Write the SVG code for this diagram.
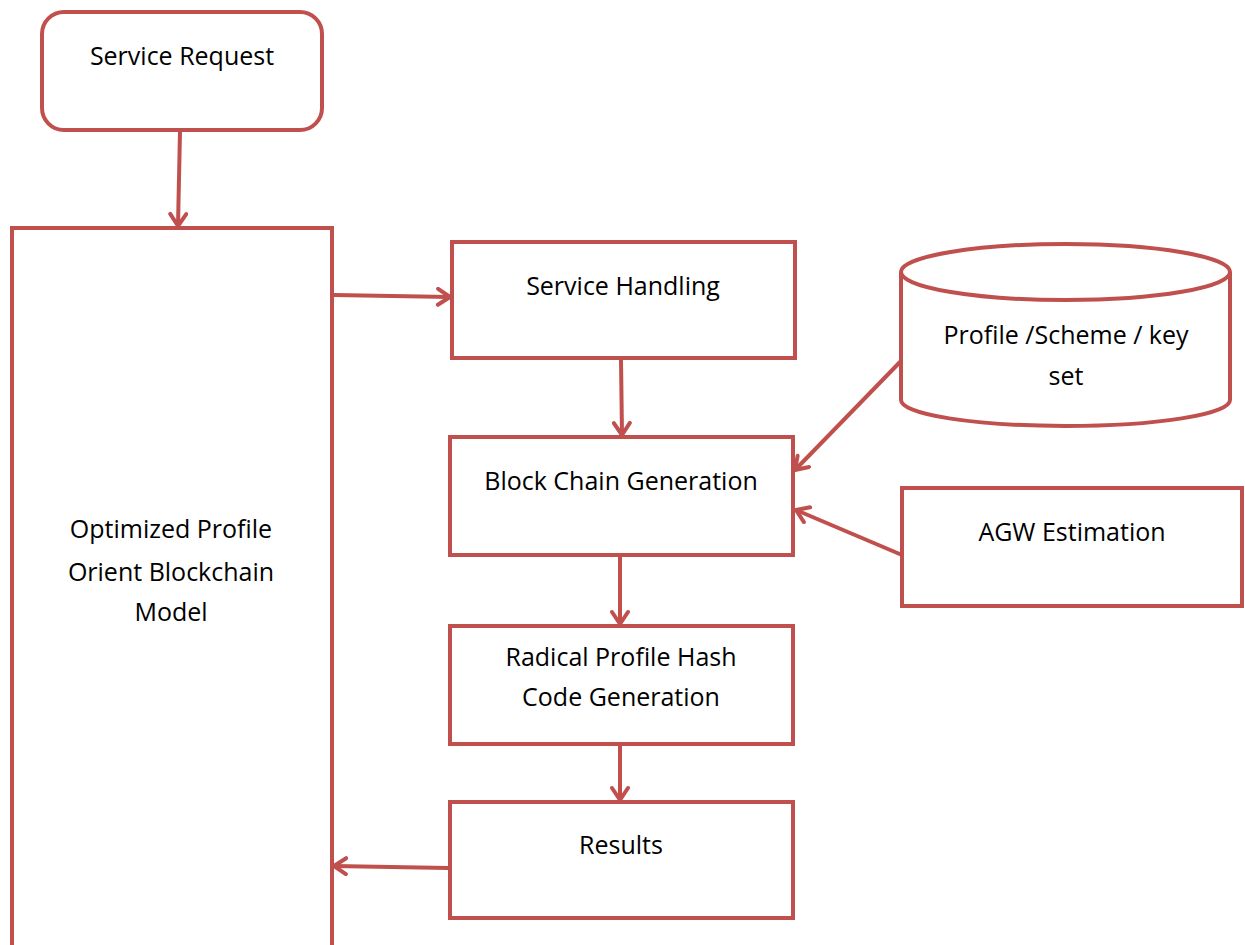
<svg xmlns="http://www.w3.org/2000/svg" width="1245" height="945" viewBox="0 0 1245 945">
  <defs>
    <style>
      .box { fill: #ffffff; stroke: #C0504D; stroke-width: 4; }
      .link { fill: none; stroke: #C0504D; stroke-width: 4; }
      .label { font-family: "Open Sans", "Liberation Sans", sans-serif; font-size: 25px; fill: #000000; text-anchor: middle; }
    </style>
    <marker id="arrow" viewBox="0 0 20 20" refX="17" refY="10" markerWidth="20" markerHeight="20" markerUnits="userSpaceOnUse" orient="auto">
      <path d="M5,2 L17,10 L5,18" fill="none" stroke="#C0504D" stroke-width="4" stroke-linecap="round" stroke-linejoin="round"/>
    </marker>
  </defs>
  <rect width="1245" height="945" fill="#ffffff"/>

  <g id="service-request">
    <rect class="box" x="42" y="12" width="280" height="118" rx="22"/>
    <text class="label" x="182" y="65">Service Request</text>
  </g>

  <g id="blockchain-model">
    <rect class="box" x="12" y="228" width="320" height="730"/>
    <text class="label" x="171" y="538">Optimized Profile</text>
    <text class="label" x="171" y="581">Orient Blockchain</text>
    <text class="label" x="171" y="621">Model</text>
  </g>

  <g id="service-handling">
    <rect class="box" x="452" y="242" width="343" height="116"/>
    <text class="label" x="623" y="295">Service Handling</text>
  </g>

  <g id="profile-store">
    <path class="box" d="M901,272 L901,400 A164.5,26 0 0 0 1230,400 L1230,272"/>
    <ellipse class="box" cx="1065.5" cy="272" rx="164.5" ry="28"/>
    <text class="label" x="1066" y="344">Profile /Scheme / key</text>
    <text class="label" x="1066" y="385">set</text>
  </g>

  <g id="block-chain-generation">
    <rect class="box" x="450" y="437" width="343" height="118"/>
    <text class="label" x="621" y="490">Block Chain Generation</text>
  </g>

  <g id="agw-estimation">
    <rect class="box" x="902" y="488" width="340" height="118"/>
    <text class="label" x="1072" y="541">AGW Estimation</text>
  </g>

  <g id="hash-code-generation">
    <rect class="box" x="450" y="626" width="343" height="118"/>
    <text class="label" x="621" y="666">Radical Profile Hash</text>
    <text class="label" x="621" y="706">Code Generation</text>
  </g>

  <g id="results">
    <rect class="box" x="450" y="802" width="343" height="116"/>
    <text class="label" x="621" y="854">Results</text>
  </g>

  <g id="connectors">
    <line class="link" x1="180" y1="131" x2="178" y2="226" marker-end="url(#arrow)"/>
    <line class="link" x1="334" y1="295" x2="450" y2="297" marker-end="url(#arrow)"/>
    <line class="link" x1="621" y1="360" x2="622" y2="435" marker-end="url(#arrow)"/>
    <line class="link" x1="901" y1="361" x2="795" y2="470" marker-end="url(#arrow)"/>
    <line class="link" x1="902" y1="555" x2="796" y2="510" marker-end="url(#arrow)"/>
    <line class="link" x1="620" y1="557" x2="620" y2="624" marker-end="url(#arrow)"/>
    <line class="link" x1="620" y1="746" x2="620" y2="800" marker-end="url(#arrow)"/>
    <line class="link" x1="448" y1="868" x2="334" y2="866" marker-end="url(#arrow)"/>
  </g>
</svg>
